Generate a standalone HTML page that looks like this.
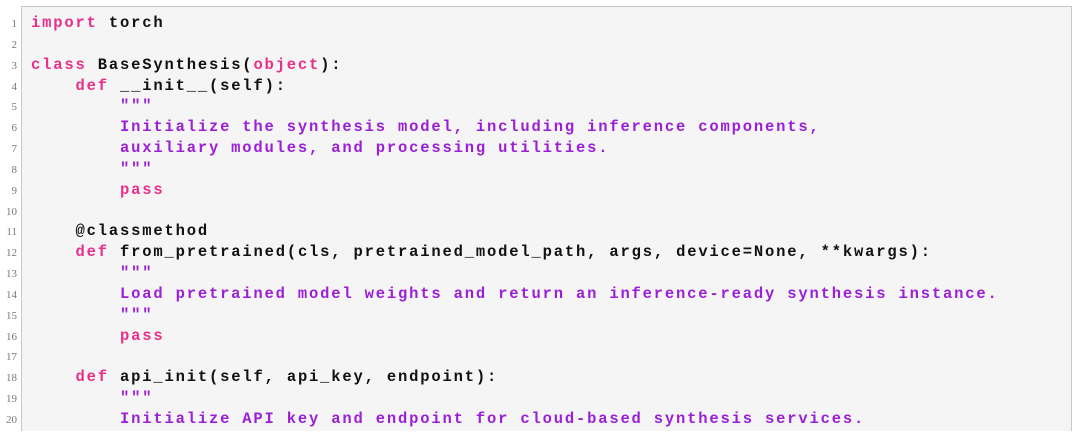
<!DOCTYPE html>
<html><head><meta charset="utf-8"><style>
html,body{margin:0;padding:0;background:#fff;width:1080px;height:442px;overflow:hidden}
.box{position:absolute;left:21px;top:6px;width:1049px;height:424px;background:#f5f5f5;border:1px solid #c8c8c8;border-bottom:none}
.ln{position:absolute;left:0;width:17px;text-align:right;font:11px "Liberation Serif",serif;color:#777}
.code{position:absolute;left:31px;white-space:pre;font:bold 15.5px "Liberation Mono",monospace;letter-spacing:1.82px;color:#111}
.k{color:#e8308a}.s{color:#9a1fd6}
</style></head><body>
<div class="box"></div>
<div id="c"></div>
<script>
var L=[
'<span class="k">import</span> torch',
'',
'<span class="k">class</span> BaseSynthesis(<span class="k">object</span>):',
'    <span class="k">def</span> __init__(self):',
'<span class="s">        """</span>',
'<span class="s">        Initialize the synthesis model, including inference components,</span>',
'<span class="s">        auxiliary modules, and processing utilities.</span>',
'<span class="s">        """</span>',
'        <span class="k">pass</span>',
'',
'    @classmethod',
'    <span class="k">def</span> from_pretrained(cls, pretrained_model_path, args, device=None, **kwargs):',
'<span class="s">        """</span>',
'<span class="s">        Load pretrained model weights and return an inference-ready synthesis instance.</span>',
'<span class="s">        """</span>',
'        <span class="k">pass</span>',
'',
'    <span class="k">def</span> api_init(self, api_key, endpoint):',
'<span class="s">        """</span>',
'<span class="s">        Initialize API key and endpoint for cloud-based synthesis services.</span>'
];
var h='';
for(var i=0;i<L.length;i++){var t=14+i*20.84;
h+='<div class="ln" style="top:'+(t+4)+'px">'+(i+1)+'</div><div class="code" style="top:'+t+'px">'+L[i]+'</div>';}
document.getElementById('c').innerHTML=h;
</script>
</body></html>
